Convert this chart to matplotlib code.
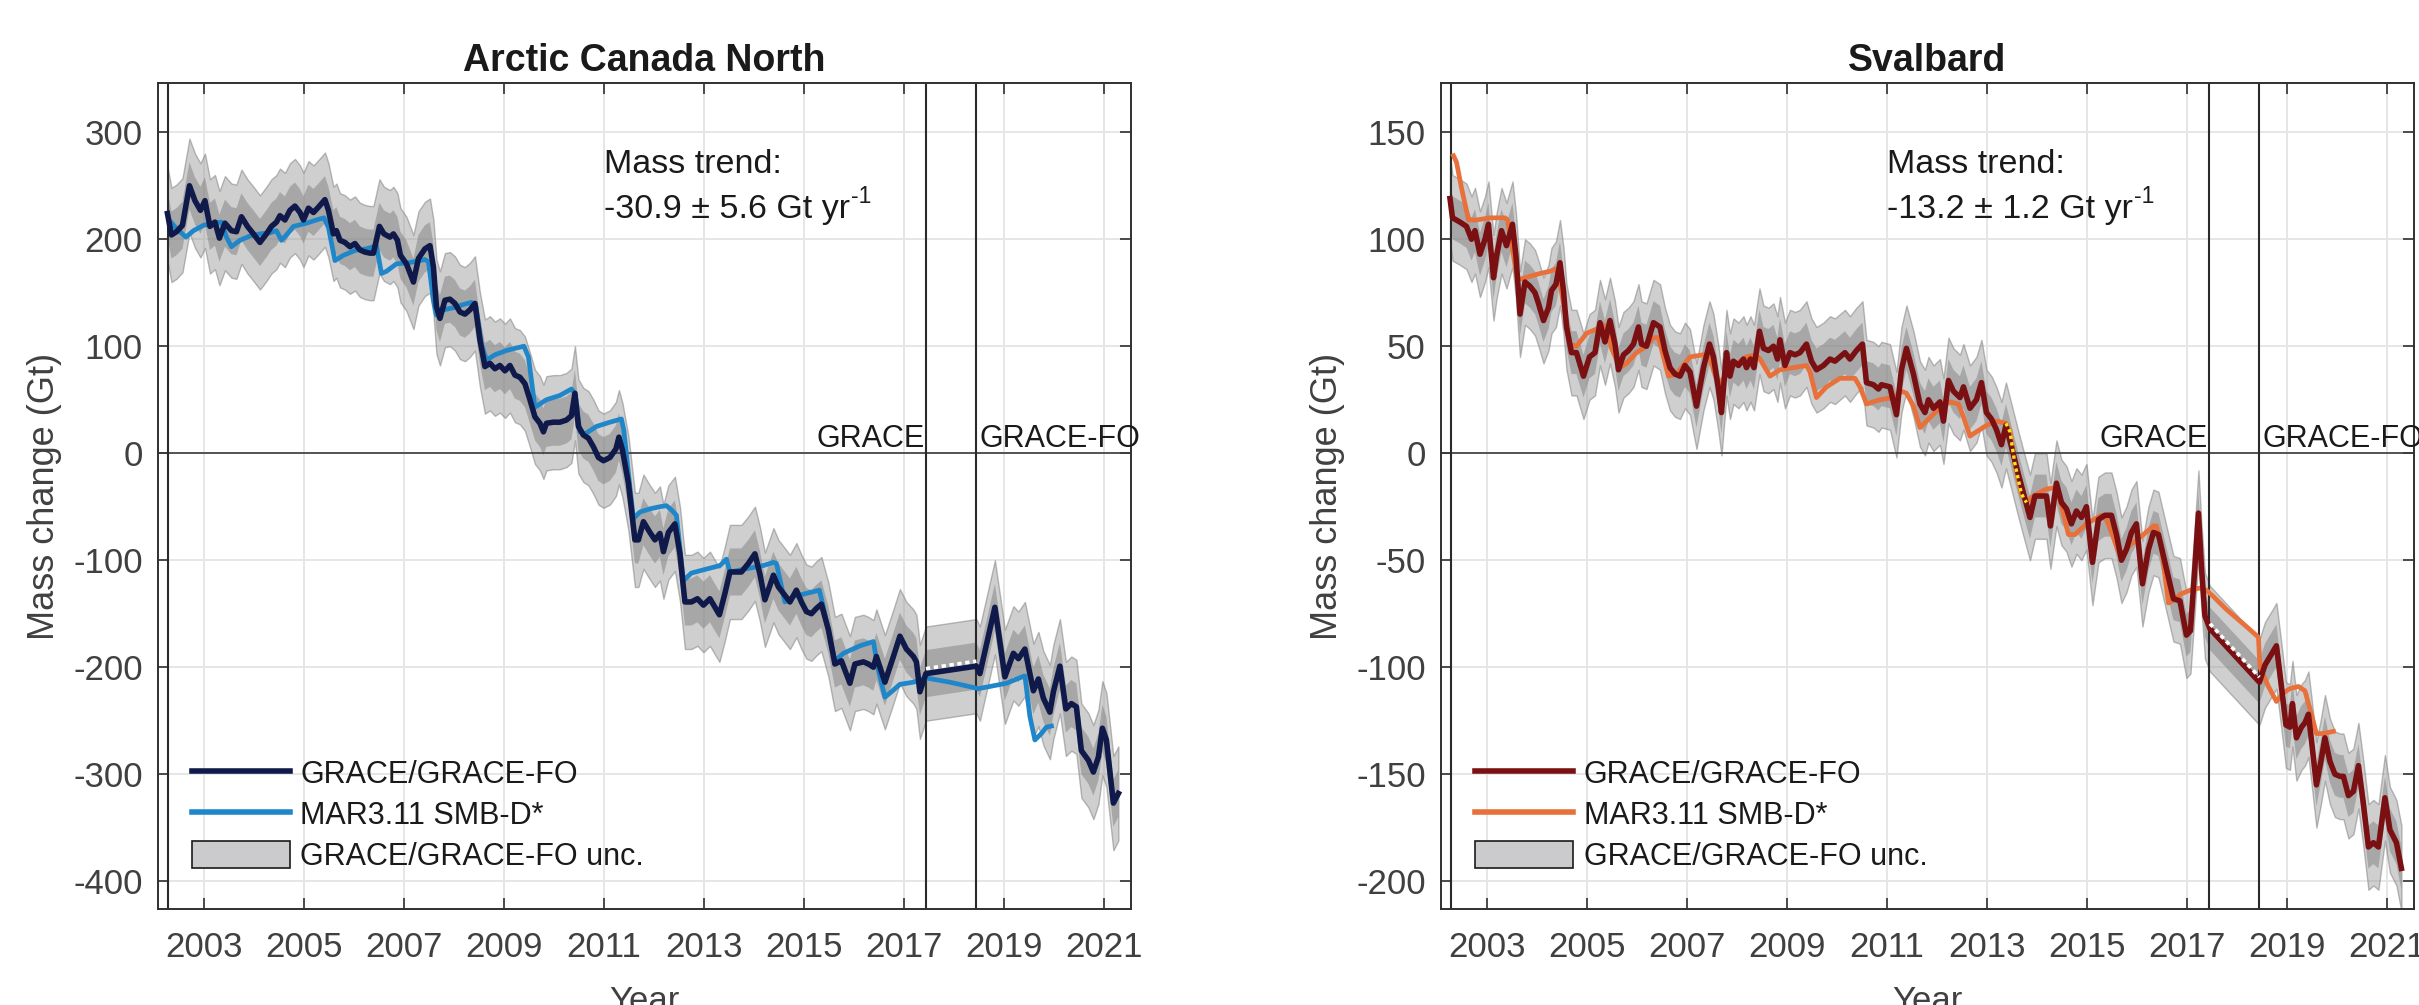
import numpy as np
import matplotlib
matplotlib.use('Agg')
import matplotlib.pyplot as plt
import matplotlib.transforms as mtransforms
from matplotlib.lines import Line2D
from matplotlib.patches import Patch

#! fechas de las misiones
grace_ini = 2002.29
grace_fin = 2017.45
grace_fo_ini = 2018.45

#* Arctic Canada North: GRACE/GRACE-FO (Gt)
acn_t = [2002.27, 2002.35, 2002.45, 2002.57, 2002.71, 2002.82, 2002.93, 2003.02, 2003.12, 2003.22,
         2003.31, 2003.42, 2003.55, 2003.65, 2003.75, 2003.87, 2003.99, 2004.12, 2004.25, 2004.35,
         2004.45, 2004.52, 2004.62, 2004.72, 2004.82, 2004.92, 2004.99, 2005.09, 2005.19, 2005.29,
         2005.42, 2005.49, 2005.59, 2005.65, 2005.72, 2005.82, 2005.92, 2006.02, 2006.12, 2006.22,
         2006.32, 2006.39, 2006.51, 2006.60, 2006.72, 2006.79, 2006.87, 2006.93, 2007.05, 2007.19,
         2007.29, 2007.42, 2007.52, 2007.59, 2007.65, 2007.72, 2007.82, 2007.92, 2008.02, 2008.12,
         2008.22, 2008.32, 2008.42, 2008.52, 2008.62, 2008.72, 2008.82, 2008.92, 2009.02, 2009.12,
         2009.22, 2009.32, 2009.42, 2009.52, 2009.62, 2009.72, 2009.79, 2009.85, 2009.99, 2010.12,
         2010.25, 2010.35, 2010.42, 2010.49, 2010.59, 2010.69, 2010.79, 2010.89, 2010.99, 2011.12,
         2011.24, 2011.30, 2011.37, 2011.49, 2011.62, 2011.69, 2011.79, 2011.92, 2012.02, 2012.12,
         2012.19, 2012.29, 2012.42, 2012.52, 2012.62, 2012.75, 2012.87, 2012.99, 2013.12, 2013.22,
         2013.31, 2013.42, 2013.52, 2013.62, 2013.75, 2013.89, 2014.02, 2014.12, 2014.22, 2014.31,
         2014.39, 2014.49, 2014.59, 2014.72, 2014.85, 2014.95, 2015.05, 2015.15, 2015.25, 2015.35,
         2015.49, 2015.62, 2015.75, 2015.92, 2016.02, 2016.19, 2016.29, 2016.39, 2016.45, 2016.62,
         2016.79, 2016.92, 2017.05, 2017.19, 2017.25, 2017.32, 2017.44, 2018.45, 2018.52, 2018.82,
         2019.02, 2019.19, 2019.29, 2019.42, 2019.59, 2019.69, 2019.79, 2019.92, 2019.99, 2020.12,
         2020.24, 2020.35, 2020.45, 2020.55, 2020.69, 2020.79, 2020.89, 2020.97, 2021.05, 2021.19,
         2021.29]
acn_masa = [224, 204, 207, 213, 250, 236, 227, 236, 212, 216,
            201, 215, 208, 207, 221, 212, 205, 197, 205, 212,
            216, 222, 218, 227, 231, 225, 218, 229, 225, 230,
            237, 227, 205, 208, 199, 197, 193, 196, 190, 188,
            187, 187, 212, 205, 202, 205, 199, 185, 177, 160,
            182, 191, 194, 174, 137, 126, 143, 144, 140, 132,
            130, 134, 140, 106, 81, 84, 79, 82, 77, 82,
            73, 71, 65, 50, 34, 28, 20, 28, 29, 29,
            31, 35, 56, 25, 17, 14, 6, -4, -7, -4,
            4, 15, 3, -28, -81, -81, -64, -74, -81, -75,
            -92, -74, -66, -94, -139, -139, -136, -142, -136, -144,
            -151, -131, -111, -111, -111, -103, -94, -113, -137, -125,
            -114, -125, -131, -139, -128, -139, -148, -150, -145, -141,
            -165, -197, -194, -215, -197, -195, -197, -200, -190, -214,
            -190, -171, -183, -190, -195, -223, -206, -199, -206, -144,
            -209, -187, -192, -183, -222, -211, -229, -242, -223, -199,
            -239, -234, -237, -278, -287, -298, -284, -257, -268, -327,
            -318]
acn_unc = 22  # incertidumbre 1-sigma (Gt)

#* Arctic Canada North: MAR3.11 SMB-D* (Gt)
acn_mar_t = [2002.32, 2002.45, 2002.64, 2002.79, 2002.99, 2003.19, 2003.35, 2003.45, 2003.55, 2003.72,
             2003.92, 2004.12, 2004.32, 2004.45, 2004.55, 2004.65, 2004.79, 2005.05, 2005.25, 2005.40,
             2005.49, 2005.62, 2005.79, 2006.05, 2006.25, 2006.45, 2006.55, 2006.65, 2006.85, 2007.09,
             2007.42, 2007.49, 2007.59, 2007.65, 2007.79, 2007.99, 2008.19, 2008.35, 2008.44, 2008.55,
             2008.65, 2008.82, 2009.05, 2009.22, 2009.40, 2009.49, 2009.62, 2009.85, 2010.12, 2010.35,
             2010.42, 2010.52, 2010.62, 2010.85, 2011.12, 2011.35, 2011.40, 2011.49, 2011.59, 2011.72,
             2011.92, 2012.12, 2012.25, 2012.35, 2012.45, 2012.59, 2012.75, 2012.99, 2013.32, 2013.45,
             2013.52, 2013.85, 2014.19, 2014.39, 2014.45, 2014.62, 2014.79, 2015.05, 2015.31, 2015.39,
             2015.62, 2015.79, 2016.12, 2016.39, 2016.49, 2016.62, 2016.75, 2016.92, 2017.19, 2017.44,
             2017.92, 2018.49, 2018.72, 2019.05, 2019.42, 2019.52, 2019.62, 2019.75, 2019.85, 2019.95]
acn_mar = [217, 210, 202, 208, 213, 215, 216, 202, 193, 199,
           203, 205, 206, 208, 199, 204, 212, 215, 218, 220,
           211, 180, 185, 190, 191, 194, 168, 170, 177, 178,
           181, 179, 143, 129, 134, 136, 139, 141, 137, 102,
           87, 92, 96, 98, 100, 90, 43, 50, 54, 60,
           56, 20, 18, 25, 29, 32, 21, -19, -61, -55,
           -52, -50, -49, -53, -58, -119, -112, -109, -105, -99,
           -111, -108, -105, -102, -103, -139, -134, -131, -128, -144,
           -194, -187, -180, -176, -203, -228, -223, -216, -214, -210,
           -214, -220, -218, -215, -208, -246, -268, -262, -256, -255]

#* Svalbard: GRACE/GRACE-FO (Gt)
sva_t = [2002.26, 2002.31, 2002.46, 2002.59, 2002.69, 2002.76, 2002.86, 2002.96, 2003.03, 2003.13,
         2003.19, 2003.29, 2003.39, 2003.51, 2003.58, 2003.66, 2003.76, 2003.86, 2003.96, 2004.03,
         2004.13, 2004.23, 2004.29, 2004.38, 2004.46, 2004.53, 2004.59, 2004.69, 2004.79, 2004.93,
         2005.05, 2005.16, 2005.26, 2005.36, 2005.46, 2005.56, 2005.63, 2005.73, 2005.83, 2005.93,
         2006.03, 2006.09, 2006.19, 2006.33, 2006.46, 2006.56, 2006.66, 2006.76, 2006.86, 2006.96,
         2007.06, 2007.19, 2007.33, 2007.45, 2007.53, 2007.63, 2007.69, 2007.79, 2007.86, 2007.93,
         2008.03, 2008.13, 2008.19, 2008.27, 2008.34, 2008.45, 2008.53, 2008.63, 2008.73, 2008.81,
         2008.86, 2008.96, 2009.06, 2009.16, 2009.26, 2009.39, 2009.49, 2009.59, 2009.73, 2009.86,
         2009.96, 2010.06, 2010.16, 2010.26, 2010.39, 2010.51, 2010.59, 2010.73, 2010.83, 2010.89,
         2011.06, 2011.19, 2011.29, 2011.39, 2011.53, 2011.66, 2011.76, 2011.83, 2011.93, 2012.06,
         2012.13, 2012.23, 2012.33, 2012.46, 2012.53, 2012.66, 2012.79, 2012.89, 2012.99, 2013.09,
         2013.19, 2013.29, 2013.38, 2013.49, 2013.63, 2013.79, 2013.86, 2013.96, 2014.09, 2014.19,
         2014.27, 2014.39, 2014.49, 2014.59, 2014.69, 2014.79, 2014.89, 2014.99, 2015.11, 2015.23,
         2015.36, 2015.49, 2015.59, 2015.69, 2015.79, 2015.89, 2015.99, 2016.11, 2016.23, 2016.33,
         2016.43, 2016.59, 2016.73, 2016.86, 2016.99, 2017.07, 2017.16, 2017.23, 2017.29, 2017.36,
         2017.46, 2018.45, 2018.56, 2018.79, 2018.89, 2018.98, 2019.06, 2019.11, 2019.19, 2019.29,
         2019.36, 2019.43, 2019.49, 2019.59, 2019.68, 2019.76, 2019.86, 2019.96, 2020.06, 2020.13,
         2020.23, 2020.33, 2020.43, 2020.53, 2020.63, 2020.73, 2020.83, 2020.96, 2021.06, 2021.19,
         2021.29]
sva_masa = [119, 110, 108, 106, 100, 104, 93, 100, 107, 82,
            92, 104, 97, 107, 92, 65, 80, 78, 75, 70,
            62, 68, 76, 79, 89, 76, 59, 47, 47, 36,
            45, 47, 61, 52, 62, 51, 39, 46, 48, 51,
            59, 51, 50, 61, 59, 48, 40, 37, 36, 41,
            38, 22, 40, 51, 45, 30, 19, 47, 36, 43,
            41, 44, 40, 44, 40, 57, 49, 48, 50, 44,
            53, 41, 47, 46, 47, 51, 43, 39, 41, 44,
            43, 45, 47, 44, 48, 51, 33, 32, 30, 32,
            31, 18, 39, 49, 37, 23, 19, 25, 21, 24,
            15, 34, 29, 26, 31, 21, 25, 33, 19, 16,
            11, 4, 13, 3, -10, -24, -30, -20, -20, -20,
            -34, -14, -23, -26, -33, -27, -30, -25, -51, -31,
            -29, -29, -38, -50, -45, -37, -33, -61, -45, -37,
            -38, -54, -68, -69, -85, -83, -53, -28, -53, -76,
            -82, -107, -99, -90, -109, -127, -128, -117, -133, -128,
            -126, -122, -134, -155, -144, -133, -144, -150, -151, -151,
            -160, -158, -146, -164, -184, -182, -184, -161, -176, -182,
            -194]
sva_unc = 10  # incertidumbre 1-sigma (Gt)

#* Svalbard: MAR3.11 SMB-D* (Gt)
sva_mar_t = [2002.33, 2002.39, 2002.49, 2002.63, 2002.79, 2003.06, 2003.36, 2003.41, 2003.61, 2003.76,
             2004.06, 2004.26, 2004.36, 2004.43, 2004.66, 2004.79, 2004.99, 2005.19, 2005.33, 2005.39,
             2005.49, 2005.66, 2005.79, 2005.99, 2006.19, 2006.33, 2006.43, 2006.53, 2006.63, 2006.79,
             2007.06, 2007.33, 2007.46, 2007.63, 2007.73, 2007.93, 2008.19, 2008.39, 2008.46, 2008.66,
             2008.86, 2009.13, 2009.39, 2009.46, 2009.59, 2009.79, 2010.06, 2010.36, 2010.46, 2010.59,
             2010.86, 2011.13, 2011.29, 2011.39, 2011.53, 2011.66, 2011.79, 2011.96, 2012.13, 2012.26,
             2012.43, 2012.53, 2012.66, 2012.79, 2012.99, 2013.19, 2013.38, 2013.46, 2013.56, 2013.69,
             2013.79, 2013.93, 2014.16, 2014.36, 2014.46, 2014.63, 2014.76, 2014.99, 2015.29, 2015.39,
             2015.49, 2015.66, 2015.86, 2016.13, 2016.33, 2016.39, 2016.49, 2016.63, 2016.79, 2016.86,
             2017.06, 2017.26, 2017.39, 2017.53, 2017.79, 2018.19, 2018.43, 2018.46, 2018.63, 2018.79,
             2018.93, 2019.06, 2019.23, 2019.36, 2019.49, 2019.59, 2019.73, 2019.93]
sva_mar = [139, 136, 124, 109, 109, 110, 110, 109, 81, 82,
           84, 85, 86, 84, 51, 50, 56, 58, 60, 59,
           49, 40, 42, 47, 50, 54, 54, 45, 36, 37,
           45, 46, 44, 32, 35, 41, 45, 46, 44, 36,
           39, 40, 41, 38, 26, 31, 35, 35, 31, 23,
           25, 26, 29, 28, 22, 12, 15, 19, 22, 24,
           23, 17, 8, 10, 13, 15, 14, 10, -5, -19,
           -23, -20, -17, -16, -22, -38, -38, -33, -29, -31,
           -37, -48, -43, -38, -34, -34, -44, -70, -68, -66,
           -64, -63, -64, -67, -73, -81, -86, -100, -109, -116,
           -112, -110, -109, -111, -122, -131, -131, -130]
# tramo del MAR resaltado con puntos amarillos
sva_resalte = (2013.38, 2013.79)

#* textos de cada panel
titulos = ['Arctic Canada North', 'Svalbard']
tendencias = ['-30.9 \u00b1 5.6 Gt yr', '-13.2 \u00b1 1.2 Gt yr']
etiquetas = ['GRACE/GRACE-FO', 'MAR3.11 SMB-D*', 'GRACE/GRACE-FO unc.']
limites_y = [(-426, 346), (-213, 173)]
ticks_y = [np.arange(-400, 301, 100), np.arange(-200, 151, 50)]
ticks_x = np.arange(2003, 2022, 2)


def panel(fig, ax, t, masa, unc, t_mar, mar, col_grace, col_mar, titulo, tendencia, ylim, yticks, resalte=None):
  t = np.asarray(t, float)
  masa = np.asarray(masa, float)
  t_mar = np.asarray(t_mar, float)
  mar = np.asarray(mar, float)

  ax.set_axisbelow(True)
  ax.grid(True, color='#e6e6e6', lw=1.4)

  # bandas de incertidumbre (1 y 2 sigma)
  ax.fill_between(t, masa - 2 * unc, masa + 2 * unc, facecolor='#a0a0a0', alpha=0.5,
                  edgecolor='#7a7a7a', lw=1.0, zorder=2)
  ax.fill_between(t, masa - unc, masa + unc, facecolor='#808080', alpha=0.5, lw=0, zorder=2)

  # lineas de referencia
  ax.axhline(0, color='#3a3a3a', lw=1.2, zorder=2.5)
  for xv in (grace_ini, grace_fin, grace_fo_ini):
    ax.axvline(xv, color='#2a2a2a', lw=1.5, zorder=2.5)

  ax.plot(t_mar, mar, color=col_mar, lw=3.4, zorder=3)
  ax.plot(t, masa, color=col_grace, lw=4.0, zorder=4)

  # tramo interpolado entre GRACE y GRACE-FO
  i0 = np.where(t < grace_fin + 0.02)[0][-1]
  desplaza = mtransforms.offset_copy(ax.transData, fig=fig, x=0, y=5, units='dots')
  ax.plot(t[i0:i0 + 2], masa[i0:i0 + 2], color='white', lw=2.6, ls=(0, (1.2, 1.0)),
          transform=desplaza, zorder=5)

  if resalte is not None:
    sel = (t_mar >= resalte[0]) & (t_mar <= resalte[1])
    ax.plot(t_mar[sel], mar[sel], color='#f5ea14', lw=2.4, ls=(0, (1.0, 1.0)), zorder=5)

  # textos de mision
  base = mtransforms.offset_copy(ax.transData, fig=fig, x=0, y=6, units='dots')
  ax.text(grace_fin - 0.04, 0, 'GRACE', ha='right', va='baseline', fontsize=22,
          color='#1a1a1a', transform=base)
  ax.text(grace_fo_ini + 0.06, 0, 'GRACE-FO', ha='left', va='baseline', fontsize=22,
          color='#1a1a1a', transform=base, clip_on=False)

  # tendencia de masa, con el exponente aparte
  ax.text(0.458, 0.891, 'Mass trend:', transform=ax.transAxes, fontsize=24.5, color='#1a1a1a', va='baseline')
  tx = ax.text(0.458, 0.837, tendencia, transform=ax.transAxes, fontsize=24.5, color='#1a1a1a', va='baseline')
  ax.annotate('-1', xy=(1.0, 0.0), xycoords=tx, xytext=(1.0, 15.5), textcoords='offset points',
              fontsize=16.5, color='#1a1a1a', va='baseline', ha='left')

  ax.set_xlim(2002.08, 2021.54)
  ax.set_ylim(*ylim)
  ax.set_xticks(ticks_x)
  ax.set_yticks(yticks)
  ax.tick_params(direction='in', top=True, right=True, length=8, width=1.2, labelsize=25,
                 labelcolor='#404040', color='#303030')
  ax.tick_params(axis='x', pad=16)
  ax.tick_params(axis='y', pad=11)
  for s in ax.spines.values():
    s.set_color('#303030')
    s.set_linewidth(1.4)

  ax.set_title(titulo, fontsize=27, fontweight='bold', color='#1a1a1a', pad=9)
  ax.set_xlabel('Year', fontsize=25, color='#404040', labelpad=15)
  ax.set_ylabel('Mass change (Gt)', fontsize=26, color='#404040', labelpad=8)

  manejadores = [Line2D([], [], color=col_grace, lw=4.0),
                 Line2D([], [], color=col_mar, lw=4.0),
                 Patch(facecolor='#cbcbcd', edgecolor='#1a1a1a', lw=1.2)]
  ley = ax.legend(manejadores, etiquetas, loc='lower left', bbox_to_anchor=(0.035, 0.045),
                  frameon=False, fontsize=22, handlelength=3.2, handleheight=0.95,
                  handletextpad=0.35, labelspacing=0.33, borderpad=0, borderaxespad=0)
  for txt in ley.get_texts():
    txt.set_color('#1a1a1a')


def main():
  plt.rcParams['font.family'] = ['Liberation Sans', 'DejaVu Sans']
  plt.rcParams['axes.unicode_minus'] = False

  fig = plt.figure(figsize=(24.19, 10.05), dpi=100)
  ax1 = fig.add_axes([0.0653, 0.0955, 0.4022, 0.8219])
  ax2 = fig.add_axes([0.5957, 0.0955, 0.4022, 0.8219])

  panel(fig, ax1, acn_t, acn_masa, acn_unc, acn_mar_t, acn_mar, '#101a4a', '#1f87c9',
        titulos[0], tendencias[0], limites_y[0], ticks_y[0])
  panel(fig, ax2, sva_t, sva_masa, sva_unc, sva_mar_t, sva_mar, '#7b1013', '#e8703a',
        titulos[1], tendencias[1], limites_y[1], ticks_y[1], resalte=sva_resalte)

  fig.savefig('out.png', dpi=100)


if __name__ == "__main__":
  main()
